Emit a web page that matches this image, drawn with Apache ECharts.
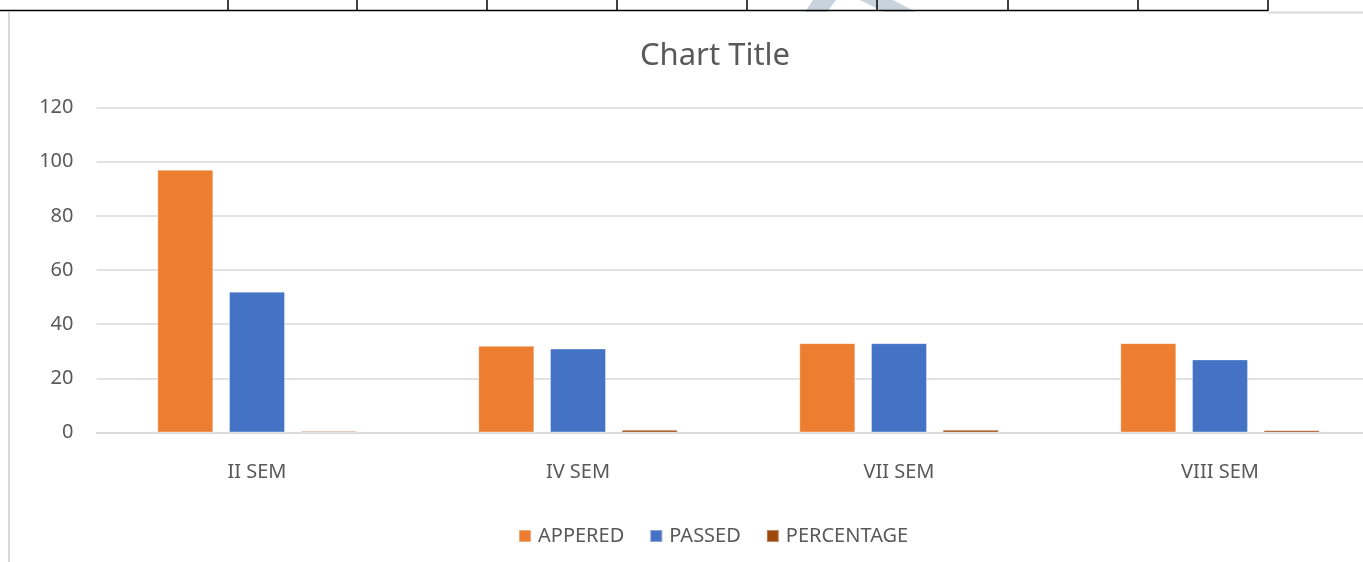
<!DOCTYPE html>
<html>
<head>
<meta charset="utf-8">
<script src="https://cdn.jsdelivr.net/npm/echarts@6/dist/echarts.min.js"></script>
<style>
html,body{margin:0;padding:0;background:#fff;overflow:hidden;}
#c{width:1400px;height:562px;}
</style>
</head>
<body>
<div id="c"></div>
<script>
var categories = ['II SEM', 'IV SEM', 'VII SEM', 'VIII SEM'];
var appered = [97, 32, 33, 33];
var passed = [52, 31, 33, 27];
var percentage = [0.54, 0.97, 1, 0.82];
var yTicks = [0, 20, 40, 60, 80, 100, 120];
var tableCols = [228, 357, 487, 617, 747, 877, 1008, 1138, 1268];

var FONT = '"Noto Sans", sans-serif';
var chart = echarts.init(document.getElementById('c'), null, {renderer: 'canvas'});

var graphics = [
  {type: 'polygon', shape: {points: [[805,12],[813,0],[836,0],[827,12]]}, style: {fill: '#c9d3de'}, z: 0},
  {type: 'polygon', shape: {points: [[860,0],[893,0],[916,12],[884,12]]}, style: {fill: '#c9d3de'}, z: 0},
  {type: 'line', shape: {x1: 1268, y1: 12.5, x2: 1400, y2: 12.5}, style: {stroke: '#d9d9d9', lineWidth: 2}},
  {type: 'line', shape: {x1: 9, y1: 12, x2: 9, y2: 562}, style: {stroke: '#d9d9d9', lineWidth: 2}},
  {type: 'line', shape: {x1: 0, y1: 10.5, x2: 1268, y2: 10.5}, style: {stroke: '#000', lineWidth: 1.5}}
];
tableCols.forEach(function (x) {
  graphics.push({type: 'line', shape: {x1: x, y1: 0, x2: x, y2: 11}, style: {stroke: '#000', lineWidth: 1.5}});
});

function barSeries(name, data, color) {
  return {
    name: name, type: 'bar', data: data,
    barWidth: 56, barGap: '28%',
    itemStyle: {color: color, borderColor: 'rgba(255,255,255,0.35)', borderWidth: 1},
    emphasis: {disabled: true}
  };
}

chart.setOption({
  animation: false,
  textStyle: {fontFamily: FONT},
  title: {
    text: 'Chart Title', left: 710, textAlign: 'center', top: 36,
    textStyle: {fontFamily: FONT, fontSize: 31, fontWeight: 'normal', color: '#595959'}
  },
  legend: {
    top: 521, left: 513, itemWidth: 12, itemHeight: 12, itemGap: 25,
    icon: 'rect',
    textStyle: {fontFamily: FONT, fontSize: 20, color: '#595959', padding: [0, 0, 0, 2]},
    data: ['APPERED', 'PASSED', 'PERCENTAGE']
  },
  grid: {left: 96.5, top: 107.5, width: 1284, height: 325, containLabel: false},
  xAxis: {
    type: 'category', data: categories,
    axisLine: {lineStyle: {color: '#d9d9d9', width: 1.5}},
    axisTick: {show: false},
    axisLabel: {fontFamily: FONT, fontSize: 20, color: '#595959', margin: 30}
  },
  yAxis: {
    type: 'value', min: yTicks[0], max: yTicks[yTicks.length - 1], interval: 20,
    axisLine: {show: false}, axisTick: {show: false},
    axisLabel: {fontFamily: FONT, fontSize: 20, color: '#595959', margin: 23},
    splitLine: {lineStyle: {color: '#d9d9d9', width: 1.5}}
  },
  series: [
    barSeries('APPERED', appered, '#ED7D31'),
    barSeries('PASSED', passed, '#4472C4'),
    barSeries('PERCENTAGE', percentage, '#9E480E')
  ],
  graphic: graphics
});
</script>
</body>
</html>
